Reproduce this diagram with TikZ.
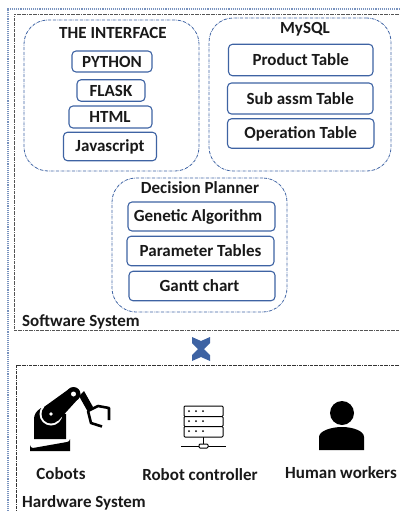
\documentclass[tikz,border=0pt]{standalone}
\usepackage{fontspec}
\setmainfont{Carlito}
\usetikzlibrary{positioning,calc}

\definecolor{boxblue}{HTML}{3E63A3}
\definecolor{linegray}{HTML}{555555}

\tikzset{
  groupbox/.style={draw=boxblue,densely dash dot,line width=0.8pt,rounded corners=24pt,inner sep=0pt},
  tablebox/.style={draw=boxblue,line width=1.1pt,rounded corners=4pt,inner sep=0pt,font=\fontsize{17}{18}\selectfont\bfseries,text=black!90},
  titletext/.style={font=\fontsize{17}{18}\selectfont\bfseries,text=black!90,inner sep=0pt},
  chevron/.style={fill=boxblue,draw=none},
  serverrack/.style={draw=black,line width=1pt,rounded corners=1pt,fill=white}
}

\begin{document}
\begin{tikzpicture}[x=1pt,y=-1pt]
\useasboundingbox (0,0) rectangle (399,511);

% Outer frames
\coordinate (softwareNW) at (14,14);
\coordinate (softwareSW) at (14,330);
\coordinate (softwareNE) at (399,14);
\coordinate (softwareSE) at (399,330);
\coordinate (hardwareNW) at (16,365);
\coordinate (hardwareNE) at (399,365);
\coordinate (hardwareSW) at (16,511);

\draw[boxblue!70,densely dotted,line width=1.1pt] (8,511) -- (8,9) -- (399,9);
\draw[linegray,densely dash dot,line width=0.9pt] (softwareNE) -- (softwareNW) -- (softwareSW);
\draw[linegray,densely dash dot,line width=0.9pt] (softwareSW) -- (softwareSE);
\draw[black!80,densely dash dot,line width=0.9pt] (hardwareNE) -- (hardwareNW) -- (hardwareSW);

% Group boxes
\node[groupbox,minimum width=175,minimum height=151] (interface) at (111.5,95.5) {};
\node[groupbox,minimum width=182,minimum height=153] (mysql) at (300,94.5) {};
\node[groupbox,minimum width=175,minimum height=134] (planner) at (199.5,245) {};

% Group titles
\node[titletext] (interfacetitle) at (113,33) {THE INTERFACE};
\node[titletext] (mysqltitle) at (305,29) {MySQL};
\node[titletext] (plannertitle) at (200,187.5) {Decision Planner};

% The interface stack
\node[tablebox,minimum width=80,minimum height=21] (python) at (112,61.5) {PYTHON};
\node[tablebox,minimum width=68,minimum height=21.5] (flask) at (111,90.5) {FLASK};
\node[tablebox,minimum width=83,minimum height=22] (html) at (110.5,117) {\hspace*{-1pt}HTML};
\node[tablebox,minimum width=93,minimum height=28.5] (javascript) at (110,146.5) {Javascript};

% The tables
\node[tablebox,minimum width=144.5,minimum height=31.5] (product) at (300.75,60) {Product Table};
\node[tablebox,minimum width=145.5,minimum height=31] (subassm) at (300.25,98.5) {Sub assm Table};
\node[tablebox,minimum width=146.5,minimum height=29.5] (operation) at (300.75,133.5) {Operation Table};

% The planner stack
\node[tablebox,minimum width=147,minimum height=29] (genetic) at (201.5,216.5) {\hspace*{-7pt}Genetic Algorithm};
\node[tablebox,minimum width=147,minimum height=29.5] (parameter) at (200.5,251) {Parameter Tables};
\node[tablebox,minimum width=146,minimum height=29.5] (gantt) at (202,286) {\hspace*{-5pt}Gantt chart};

% System labels
\node[titletext,anchor=west] (softwarelabel) at (22,322) {Software System};
\node[titletext,anchor=west] (hardwarelabel) at (22,503) {Hardware System};

% Double chevron
\fill[chevron] (192,337) -- (201,341) -- (210,337) -- (210,343) -- (204,349) -- (210,355) -- (210,361)
  -- (201,357) -- (192,361) -- (192,355) -- (198,349) -- (192,343) -- cycle;

% Cobot
\fill[black] (30,451) -- (30,445) arc (180:90:3) -- (67,442) arc (90:0:3) -- (70,451) -- cycle;
\fill[black] (34,439) -- (34,419) .. controls (34,415) and (36,411) .. (41,408) -- (66,414) -- (66,439) -- cycle;
\fill[white] (51,414) circle (11.5);
\fill[black] (51,414) circle (9.5);
\fill[black] (44,407) -- (69,389) -- (78,399) -- (58,421) -- cycle;
\fill[black] (79,396) -- (84,391) -- (93,407) -- (88,412) -- cycle;
\fill[black] (73.5,394) circle (7);
\fill[white] (73.5,394) circle (2.5);
\fill[white] (51,414) circle (1.8);
\draw[black,line width=2.6pt,line join=round] (88,411) -- (98,406) -- (109,408) -- (109,420);
\draw[black,line width=2.6pt,line join=round] (88,411) -- (91,423) -- (102,426.5);

% Robot controller
\draw[black,line width=1pt] (203.5,437) -- (203.5,444);
\draw[black,line width=1pt] (181,446) -- (226,446);
\draw[serverrack] (199,444) rectangle (208,448);
\draw[serverrack] (184,406) rectangle (223,416.5);
\draw[serverrack] (184,416.5) rectangle (223,426.5);
\draw[serverrack] (184,426.5) rectangle (223,437);
\foreach \y in {411,421,431}{
  \foreach \x in {189,196,203}{
    \fill[black] (\x,\y) circle (1);
  }
}

% Human worker
\fill[black] (342,413) circle (12);
\fill[black] (319,450) -- (319,437) .. controls (319,431) and (331,427) .. (342,427)
  .. controls (353,427) and (364,431) .. (364,437) -- (364,450) -- cycle;

% Hardware labels
\node[titletext] (cobots) at (61,474) {Cobots};
\node[titletext] (controller) at (200,475) {Robot controller};
\node[titletext] (workers) at (341,473) {Human workers};

\end{tikzpicture}
\end{document}
